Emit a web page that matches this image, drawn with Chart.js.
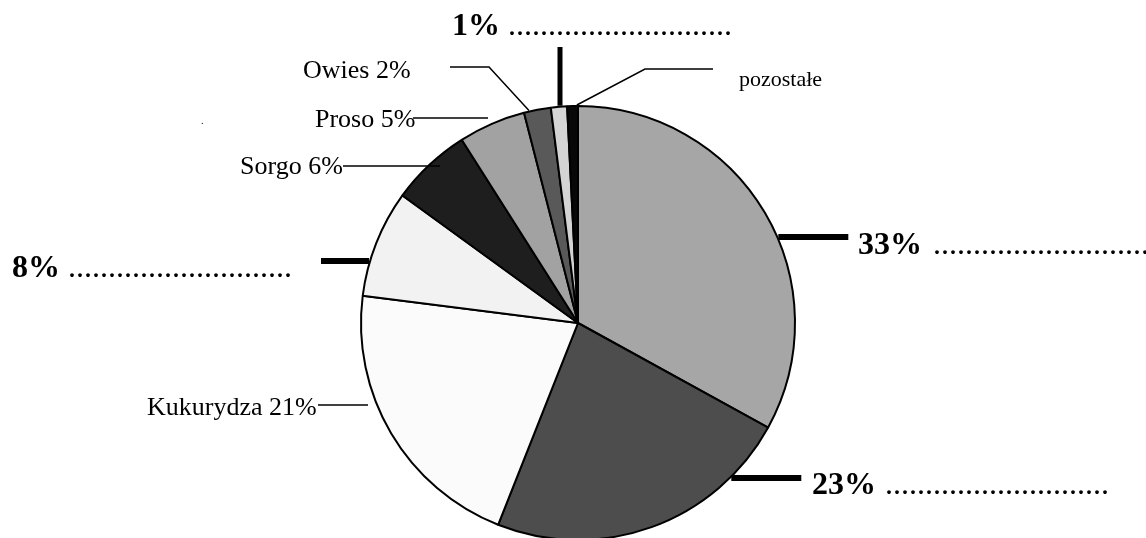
<!DOCTYPE html>
<html>
<head>
<meta charset="utf-8">
<script src="https://cdn.jsdelivr.net/npm/chart.js@4/dist/chart.umd.min.js"></script>
<style>
  html, body { margin: 0; padding: 0; background: #ffffff; }
  #wrap { width: 1146px; height: 538px; overflow: hidden; position: relative; background: #fff; }
</style>
</head>
<body>
<div id="wrap"><canvas id="c" width="1146" height="600"></canvas></div>
<script>
// ---- data ----
const categories = ['', '', 'Kukurydza', '', 'Sorgo', 'Proso', 'Owies', '', 'pozostałe'];
const shares = [33, 23, 21, 8, 6, 5, 2, 1.2, 0.8];
const sliceColors = ['#a6a6a6', '#4d4d4d', '#fbfbfb', '#f2f2f2', '#1e1e1e', '#a2a2a2', '#595959', '#d4d4d4', '#080808'];

const SERIF = '"Liberation Serif", "Times New Roman", serif';
const DOTS = '.'.repeat(28);

function pct(i) { return Math.round(shares[i]) + '%'; }

const annotate = {
  id: 'annotate',
  afterDraw(chart) {
    const ctx = chart.ctx;
    const arc = chart.getDatasetMeta(0).data[0];
    const cx = arc.x, cy = arc.y, r = arc.outerRadius + 1;
    const edgeX = (y, side) => cx + side * Math.sqrt(Math.max(r * r - (y - cy) * (y - cy), 0));
    const edgeY = (x) => cy - Math.sqrt(Math.max(r * r - (x - cx) * (x - cx), 0));
    const onCircle = (deg) => {
      const a = deg * Math.PI / 180;
      return [cx + r * Math.sin(a), cy - r * Math.cos(a)];
    };
    ctx.save();
    ctx.strokeStyle = '#000';
    ctx.fillStyle = '#000';
    ctx.lineCap = 'butt';

    // thick blank-answer bars with bold percentages + dotted answer lines
    ctx.lineWidth = 6;
    const bars = [
      { i: 0, y: cy - 86, side: 1, len: 70, tx: 858, ty: 254, dx: 933 },
      { i: 1, y: cy + 155, side: 1, len: 70, tx: 812, ty: 494, dx: 885 },
      { i: 3, y: cy - 62, side: -1, len: 48, tx: 12, ty: 277, dx: 68 }
    ];
    bars.forEach(b => {
      const x0 = edgeX(b.y, b.side);
      ctx.beginPath();
      ctx.moveTo(x0, b.y);
      ctx.lineTo(x0 + b.side * b.len, b.y);
      ctx.stroke();
      ctx.font = 'bold 32px ' + SERIF;
      ctx.textBaseline = 'alphabetic';
      ctx.fillText(pct(b.i), b.tx, b.ty);
      ctx.font = '32px ' + SERIF;
      ctx.fillText(DOTS, b.dx, b.ty);
    });

    // vertical bar for 1%
    ctx.lineWidth = 5;
    const vx = cx - 18;
    ctx.beginPath();
    ctx.moveTo(vx, 47);
    ctx.lineTo(vx, edgeY(vx));
    ctx.stroke();
    ctx.font = 'bold 32px ' + SERIF;
    ctx.fillText(pct(7), 452, 35);
    ctx.font = '32px ' + SERIF;
    ctx.fillText(DOTS, 508, 35);

    // thin leader lines and names
    ctx.lineWidth = 1.5;
    const poly = (pts) => {
      ctx.beginPath();
      ctx.moveTo(pts[0][0], pts[0][1]);
      for (let k = 1; k < pts.length; k++) ctx.lineTo(pts[k][0], pts[k][1]);
      ctx.stroke();
    };
    // Owies
    poly([[450, 67], [489, 67], onCircle(347)]);
    // Proso
    poly([[413, 118], [488, 118]]);
    // Sorgo
    poly([[343, 166], [440, 166]]);
    // Kukurydza
    poly([[318, 405], [368, 405]]);
    // pozostale
    poly([onCircle(359.7), [645, 69], [713, 69]]);

    ctx.font = '26px ' + SERIF;
    ctx.fillText(categories[6] + ' ' + pct(6), 303, 78);
    ctx.fillText(categories[5] + ' ' + pct(5), 315, 127);
    ctx.fillText(categories[4] + ' ' + pct(4), 240, 174);
    ctx.fillText(categories[2] + ' ' + pct(2), 147, 415);
    ctx.font = '22px ' + SERIF;
    ctx.fillText(categories[8], 739, 86);
    ctx.font = '10px ' + SERIF;
    ctx.fillText('.', 201, 124);
    ctx.restore();
  }
};

new Chart(document.getElementById('c'), {
  type: 'pie',
  data: {
    labels: categories,
    datasets: [{
      data: shares,
      backgroundColor: sliceColors,
      borderColor: '#000000',
      borderWidth: 2
    }]
  },
  options: {
    responsive: false,
    animation: false,
    devicePixelRatio: 1,
    layout: { padding: { left: 360, right: 350, top: 105, bottom: 59 } },
    plugins: { legend: { display: false }, tooltip: { enabled: false }, title: { display: false } }
  },
  plugins: [annotate]
});
</script>
</body>
</html>
